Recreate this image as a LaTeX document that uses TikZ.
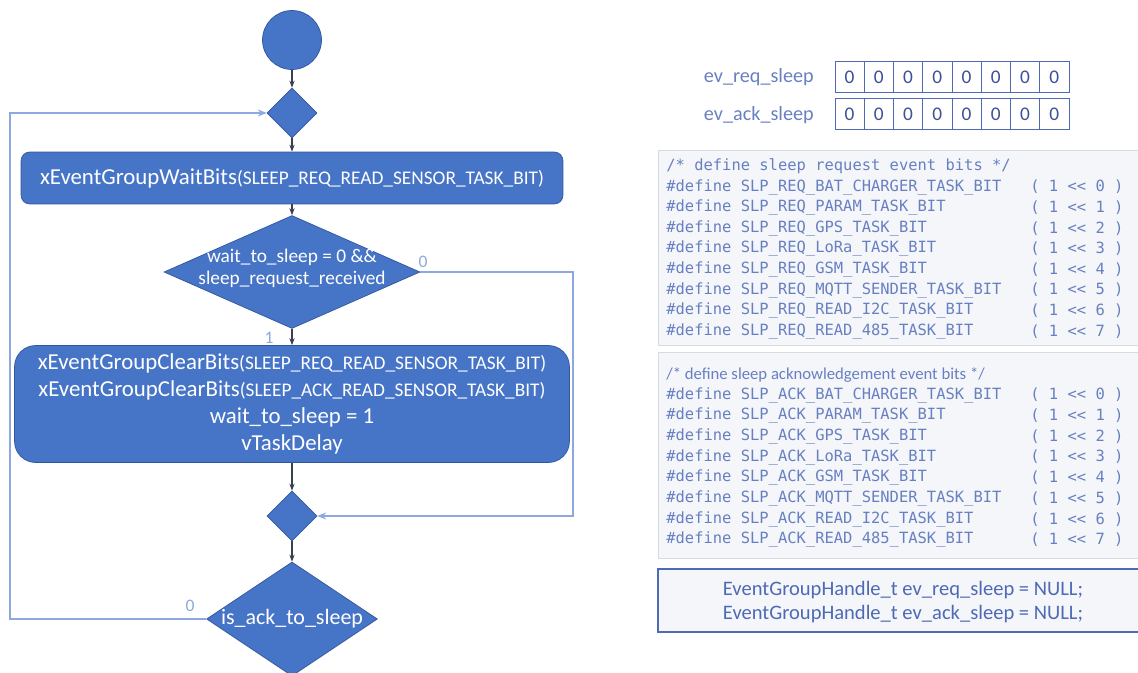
\documentclass[tikz,border=0pt]{standalone}
\usepackage{fontspec}
\setmainfont{Carlito}
\setmonofont{DejaVu Sans Mono}
\usetikzlibrary{arrows.meta}
\usetikzlibrary{shapes.geometric}
\definecolor{ablauf}{RGB}{70,116,198}
\definecolor{rand}{RGB}{50,86,158}
\definecolor{schleife}{RGB}{140,168,222}
\definecolor{pfeil}{RGB}{58,64,80}
\definecolor{codeblau}{RGB}{104,128,194}
\definecolor{feld}{RGB}{244,246,250}
\definecolor{feldrand}{RGB}{214,218,226}
\definecolor{bitrand}{RGB}{78,106,182}
\definecolor{bittext}{RGB}{62,80,150}

\begin{document}
\begin{tikzpicture}[x=0.02cm, y=-0.02cm,
	kasten/.style={draw=rand, fill=ablauf, text=white, align=center, inner sep=0pt},
	raute/.style={diamond, draw=rand, fill=ablauf, inner sep=0pt},
	weiss/.style={text=white, align=center, inner sep=0pt},
	verb/.style={draw=pfeil, line width=0.6pt, -{Stealth[length=4pt,width=3pt]}},
	rueck/.style={draw=schleife, line width=0.9pt, -{Stealth[length=5pt,width=4pt]}},
	marke/.style={text=schleife, font=\fontsize{10}{12}\selectfont},
	bit/.style={draw=bitrand, fill=white, text=bittext, minimum width=0.585cm, minimum height=0.62cm, inner sep=0pt, font=\fontsize{11}{13}\selectfont},
	codezeile/.style={anchor=west, text=codeblau, inner sep=0pt, font=\ttfamily\fontsize{8.8}{10}\selectfont}]

	\useasboundingbox (0,0) rectangle (1138,672);
	\clip (0,0) rectangle (1138,672);

	% Ablauf
	\node[circle, draw=rand, fill=ablauf, minimum size=1.18cm, inner sep=0pt] (start) at (292,40) {};
	\node[raute, minimum width=1cm, minimum height=1cm] (d1) at (292,113) {};

	\node[kasten, rounded corners=5pt, minimum width=10.84cm, minimum height=1.04cm] (r1) at (292,178)
		{{\fontsize{13}{15}\selectfont xEventGroupWaitBits}{\fontsize{11}{15}\selectfont(SLEEP\_REQ\_READ\_SENSOR\_TASK\_BIT)}};

	\node[raute, minimum width=5.12cm, minimum height=2.26cm] (d2) at (292,272) {};
	\node[weiss, font=\fontsize{11}{12.6}\selectfont] (d2txt) at (292,268) {wait\_to\_sleep = 0 \&\&\\ sleep\_request\_received};

	\node[kasten, rounded corners=12pt, minimum width=11.1cm, minimum height=2.34cm, font=\fontsize{13}{15.3}\selectfont] (r2) at (292,404)
		{xEventGroupClearBits{\fontsize{11}{15.3}\selectfont(SLEEP\_REQ\_READ\_SENSOR\_TASK\_BIT)}\\
		 xEventGroupClearBits{\fontsize{11}{15.3}\selectfont(SLEEP\_ACK\_READ\_SENSOR\_TASK\_BIT)}\\
		 wait\_to\_sleep = 1\\
		 vTaskDelay};

	\node[raute, minimum width=1cm, minimum height=1cm] (d3) at (292,516) {};
	\node[raute, minimum width=3.42cm, minimum height=2.28cm] (d4) at (292,619) {};
	\node[weiss, font=\fontsize{12.5}{15}\selectfont] (d4txt) at (292,619) {is\_ack\_to\_sleep};

	\draw[verb] (start) -- (d1);
	\draw[verb] (d1) -- (r1);
	\draw[verb] (r1) -- (d2);
	\draw[verb] (d2) -- (r2);
	\draw[verb] (r2) -- (d3);
	\draw[verb] (d3) -- (d4);

	% Schleifen
	\coordinate (rechts) at (573,272);
	\coordinate (links) at (10,619);
	\draw[rueck] (d2.east) -- (rechts) |- (d3.east);
	\draw[rueck] (d4.west) -- (links) |- (d1.west);

	\node[marke] (m0a) at (423,262) {0};
	\node[marke] (m1) at (269,338) {1};
	\node[marke] (m0b) at (190,606) {0};

	% Ereignisbits
	\node[anchor=east, text=codeblau, font=\fontsize{11.5}{13}\selectfont] (lreq) at (820,77) {ev\_req\_sleep};
	\node[anchor=east, text=codeblau, font=\fontsize{11.5}{13}\selectfont] (lack) at (820,115) {ev\_ack\_sleep};
	\foreach \i in {0,...,7} {
		\node[bit] (req\i) at ({849.6+29.25*\i},77) {0};
		\node[bit] (ack\i) at ({849.6+29.25*\i},114) {0};
	}

	% Definitionen
	\draw[feldrand, fill=feld] (658,150) rectangle (1145,345);
	\draw[feldrand, fill=feld] (658,352) rectangle (1145,558);
	\draw[bitrand, fill=feld, line width=0.8pt] (658,569) rectangle (1145,632);

	\node[codezeile] (kreq) at (666,166) {/* define sleep request event bits */};
	\node[codezeile, font=\fontsize{9.5}{11}\selectfont] (kack) at (666,375) {/* define sleep acknowledgement event bits */};

	\foreach \name [count=\i from 0] in {BAT\_CHARGER,PARAM,GPS,LoRa,GSM,MQTT\_SENDER,READ\_I2C,READ\_485} {
		\node[codezeile] (sreq\i) at (666,{187+20.6*\i}) {\#define SLP\_REQ\_\name\_TASK\_BIT};
		\node[codezeile] (vreq\i) at (1030,{187+20.6*\i}) {( 1 << \i\ )};
		\node[codezeile] (sack\i) at (666,{395+20.7*\i}) {\#define SLP\_ACK\_\name\_TASK\_BIT};
		\node[codezeile] (vack\i) at (1030,{395+20.7*\i}) {( 1 << \i\ )};
	}

	\node[text=bitrand, align=center, font=\fontsize{11.7}{14}\selectfont] (hdl) at (903,602)
		{EventGroupHandle\_t ev\_req\_sleep = NULL;\\ EventGroupHandle\_t ev\_ack\_sleep = NULL;};

\end{tikzpicture}
\end{document}
